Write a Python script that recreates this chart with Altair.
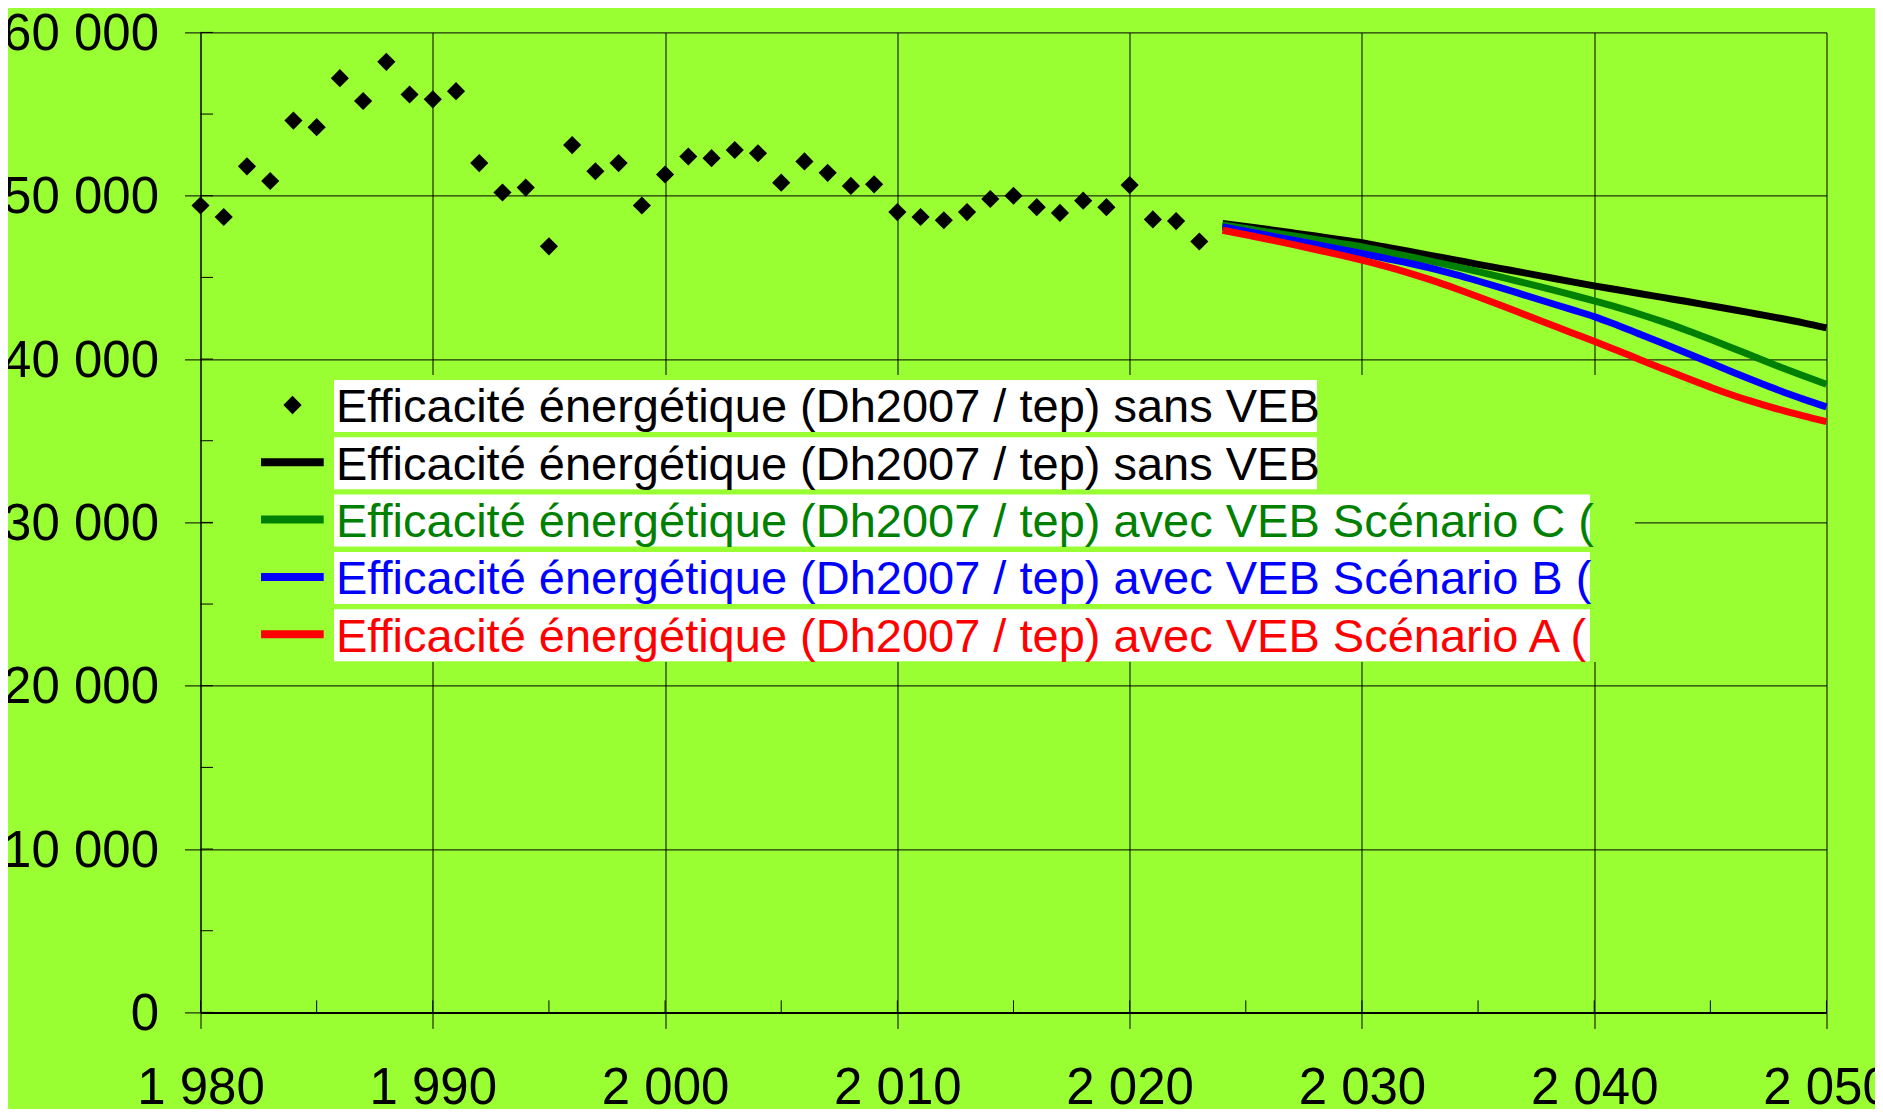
import altair as alt
import pandas as pd

# ---------------- data ----------------
hist_years = list(range(1980, 2024))
hist_values = [49400, 48700, 51800, 50900, 54600, 54200, 57200, 55800, 58200, 56200,
               55900, 56400, 52000, 50200, 50500, 46900, 53100, 51500, 52000, 49400,
               51300, 52400, 52300, 52800, 52600, 50800, 52100, 51400, 50600, 50700,
               49000, 48700, 48500, 49000, 49800, 50000, 49300, 48950, 49700, 49300,
               50650, 48550, 48450, 47200]

proj_years = list(range(2024, 2051))
sans_veb = [48300, 48120, 47930, 47730, 47530, 47330, 47120, 46860, 46600, 46330,
            46070, 45800, 45540, 45280, 45010, 44740, 44480, 44240, 44000, 43760,
            43520, 43270, 43020, 42760, 42500, 42220, 41910]
scen_c = [48210, 47990, 47770, 47550, 47330, 47100, 46870, 46580, 46280, 45980,
          45670, 45350, 45020, 44670, 44310, 43940, 43560, 43160, 42730, 42260,
          41750, 41210, 40650, 40080, 39520, 38980, 38460]
scen_b = [48090, 47830, 47560, 47290, 47020, 46740, 46460, 46170, 45880, 45550,
          45180, 44780, 44360, 43920, 43480, 43040, 42600, 42070, 41510, 40940,
          40360, 39770, 39180, 38610, 38060, 37550, 37070]
scen_a = [47890, 47610, 47320, 47020, 46710, 46390, 46060, 45690, 45280, 44830,
          44340, 43820, 43280, 42730, 42180, 41630, 41085, 40520, 39950, 39380,
          38820, 38280, 37770, 37320, 36900, 36520, 36170]

series_names = ["sans VEB", "Scénario C", "Scénario B", "Scénario A"]
series_colors = ["#000000", "#008000", "#0000FF", "#FF0000"]

legend_labels = [
    "Efficacité énergétique (Dh2007 / tep) sans VEB",
    "Efficacité énergétique (Dh2007 / tep) sans VEB",
    "Efficacité énergétique (Dh2007 / tep) avec VEB Scénario C (",
    "Efficacité énergétique (Dh2007 / tep) avec VEB Scénario B (",
    "Efficacité énergétique (Dh2007 / tep) avec VEB Scénario A (",
]
legend_colors = ["#000000", "#000000", "#008000", "#0000FF", "#FF0000"]

x_ticks = [1980, 1990, 2000, 2010, 2020, 2030, 2040, 2050]
y_ticks = [0, 10000, 20000, 30000, 40000, 50000, 60000]
x_minor = list(range(1980, 2051, 5))
y_minor = list(range(0, 60001, 5000))

# ---------------- style ----------------
FONT = "Liberation Sans"
BG = "#99FF33"
W, H = 1626, 980
label_expr = "replace(format(datum.value, ','), ',', ' ')"

x_enc = alt.X(
    "year:Q",
    scale=alt.Scale(domain=[1980, 2050], nice=False, zero=False),
    axis=alt.Axis(values=x_ticks, title=None, grid=True, gridColor="black", gridWidth=1,
                  gridOpacity=1, domainColor="black", domainWidth=2, tickColor="black",
                  tickSize=16, tickWidth=1, labelFont=FONT, labelFontSize=51,
                  labelColor="black", labelPadding=35, labelExpr=label_expr,
                  labelOverlap=False, labelFlush=False, labelBound=False),
)
y_enc = alt.Y(
    "value:Q",
    scale=alt.Scale(domain=[0, 60000], nice=False, zero=True),
    axis=alt.Axis(values=y_ticks, title=None, grid=True, gridColor="black", gridWidth=1,
                  gridOpacity=1, domainColor="black", domainWidth=1, tickColor="black",
                  tickSize=16, tickWidth=1, labelFont=FONT, labelFontSize=51,
                  labelColor="black", labelPadding=26, labelOffset=2,
                  labelExpr=label_expr, labelOverlap=False, labelFlush=False,
                  labelBound=False),
)

df_hist = pd.DataFrame({"year": hist_years, "value": hist_values})
proj_values = [sans_veb, scen_c, scen_b, scen_a]

layers = []

# legend background (covers gridlines)
one = pd.DataFrame({"k": [0]})
layers.append(
    alt.Chart(one).mark_rect(color=BG).encode(
        x=alt.value(12.5), x2=alt.value(1434.5), y=alt.value(342.6), y2=alt.value(629.6)
    )
)

# inward minor ticks
layers.append(
    alt.Chart(pd.DataFrame({"value": y_minor})).mark_rule(color="black", strokeWidth=1).encode(
        y=y_enc, x=alt.value(0), x2=alt.value(12.5)
    )
)
layers.append(
    alt.Chart(pd.DataFrame({"year": x_minor})).mark_rule(color="black", strokeWidth=1).encode(
        x=x_enc, y=alt.value(H), y2=alt.value(H - 12)
    )
)

# historical points
layers.append(
    alt.Chart(df_hist).mark_point(shape="diamond", filled=True, size=330, color="black",
                                  opacity=1, strokeWidth=0).encode(x=x_enc, y=y_enc)
)

# projection lines
for name, col, vals in zip(series_names, series_colors, proj_values):
    d = pd.DataFrame({"year": proj_years, "value": vals})
    layers.append(
        alt.Chart(d).mark_line(color=col, strokeWidth=7, interpolate="monotone").encode(
            x=x_enc, y=y_enc
        )
    )

# custom legend
legend_df = pd.DataFrame({"label": legend_labels, "color": legend_colors,
                          "row": list(range(len(legend_labels)))})
leg = alt.Chart(legend_df).transform_calculate(
    bx="133.5",
    bx2="datum.row < 2 ? 1116.5 : 1389.5",
    by="347.6 + 57.3 * datum.row",
    by2="399.6 + 57.3 * datum.row",
    tx="135.5",
    ty="390.1 + 57.3 * datum.row",
    sy="372.6 + 57.3 * datum.row",
)
layers.append(
    leg.mark_rect(color="white").encode(
        x=alt.X("bx:Q", scale=None, axis=None), x2="bx2:Q",
        y=alt.Y("by:Q", scale=None, axis=None), y2="by2:Q",
    )
)
layers.append(
    leg.mark_text(align="left", baseline="alphabetic", font=FONT, fontSize=47).encode(
        x=alt.X("tx:Q", scale=None, axis=None),
        y=alt.Y("ty:Q", scale=None, axis=None),
        text="label:N",
        color=alt.Color("color:N", scale=None),
    )
)
layers.append(
    leg.transform_filter("datum.row == 0").mark_point(
        shape="diamond", filled=True, size=335, color="black", opacity=1, strokeWidth=0
    ).encode(x=alt.value(92), y=alt.Y("sy:Q", scale=None, axis=None))
)
layers.append(
    leg.transform_filter("datum.row >= 1").mark_rule(strokeWidth=8).encode(
        x=alt.value(60.5), x2=alt.value(123.2),
        y=alt.Y("sy:Q", scale=None, axis=None),
        color=alt.Color("color:N", scale=None),
    )
)

chart = alt.layer(*layers).properties(
    width=W, height=H,
    padding={"left": 192.5, "top": 24.4, "right": 48, "bottom": 96.5},
    autosize=alt.AutoSizeParams(type="none"),
    background=BG,
).configure_view(stroke=None)

chart.save("out.html", embed_options={"renderer": "svg", "actions": False})
